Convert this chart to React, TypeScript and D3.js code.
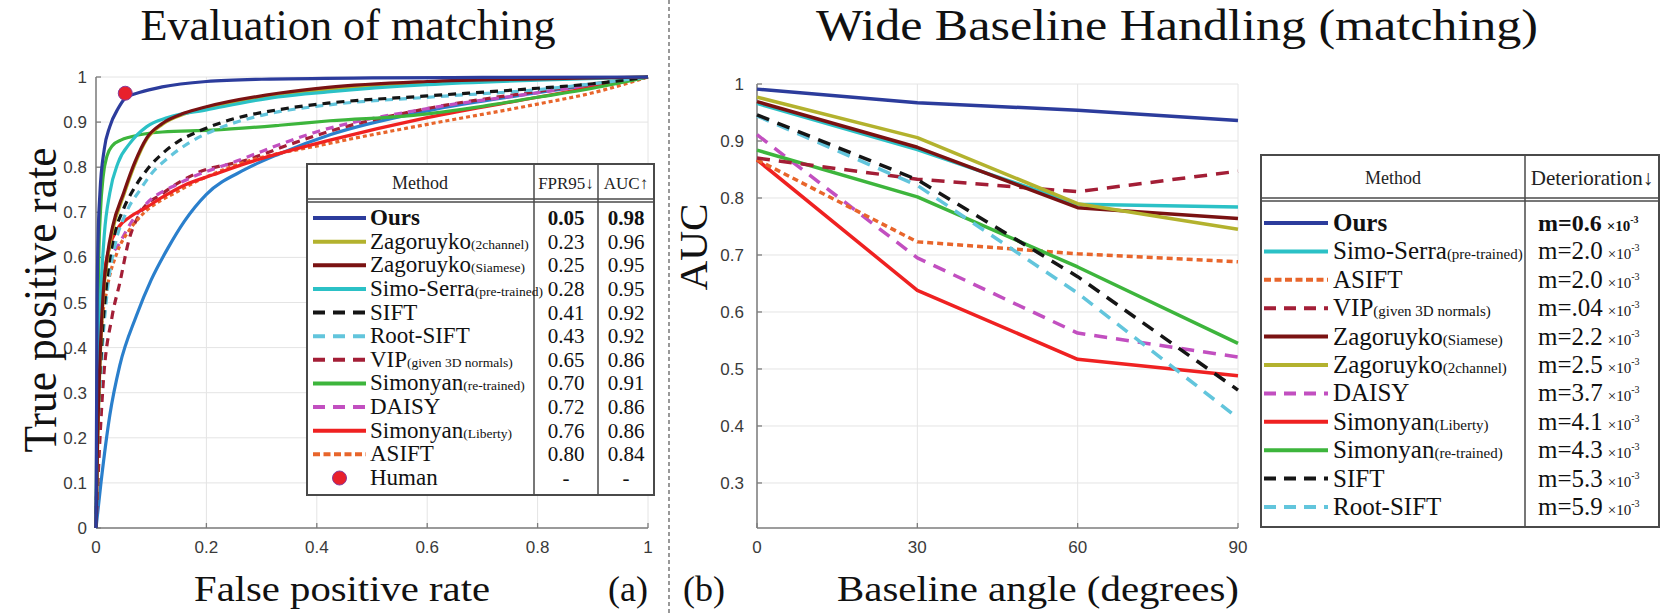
import * as d3 from 'd3'

const W = 1661
const H = 613

// (a) ROC curves, [false positive rate, true positive rate]
const rocOurs = [[0, 0], [0.002, 0.5], [0.004, 0.65], [0.007, 0.74], [0.015, 0.84], [0.025, 0.89], [0.04, 0.93], [0.053, 0.953], [0.08, 0.966], [0.12, 0.978], [0.2, 0.99], [0.3, 0.995], [0.5, 0.998], [0.7, 0.999], [1, 1]]
const rocZag2ch = [[0, 0], [0.003, 0.19], [0.008, 0.39], [0.013, 0.51], [0.02, 0.59], [0.03, 0.66], [0.05, 0.737], [0.07, 0.805], [0.092, 0.862], [0.12, 0.895], [0.16, 0.918], [0.2, 0.931], [0.33, 0.96], [0.42, 0.972], [0.6, 0.987], [0.8, 0.995], [1, 1]]
const rocZagSiam = [[0, 0], [0.003, 0.2], [0.008, 0.4], [0.013, 0.52], [0.02, 0.6], [0.03, 0.668], [0.05, 0.743], [0.07, 0.81], [0.092, 0.865], [0.12, 0.897], [0.16, 0.92], [0.2, 0.934], [0.33, 0.964], [0.42, 0.977], [0.6, 0.99], [0.8, 0.996], [1, 1]]
const rocSimoSerra = [[0, 0], [0.003, 0.3], [0.008, 0.5], [0.015, 0.65], [0.025, 0.743], [0.04, 0.81], [0.062, 0.854], [0.092, 0.89], [0.13, 0.91], [0.2, 0.927], [0.33, 0.956], [0.42, 0.967], [0.6, 0.983], [0.8, 0.993], [1, 1]]
const rocSift = [[0, 0], [0.003, 0.2], [0.01, 0.4], [0.02, 0.55], [0.031, 0.638], [0.049, 0.705], [0.07, 0.755], [0.092, 0.794], [0.121, 0.831], [0.15, 0.858], [0.183, 0.878], [0.243, 0.905], [0.333, 0.928], [0.42, 0.942], [0.6, 0.958], [0.8, 0.975], [0.9, 0.985], [1, 1]]
const rocRootSift = [[0, 0], [0.003, 0.18], [0.01, 0.37], [0.02, 0.52], [0.035, 0.63], [0.055, 0.7], [0.08, 0.75], [0.1, 0.785], [0.13, 0.82], [0.17, 0.855], [0.22, 0.885], [0.3, 0.915], [0.42, 0.938], [0.6, 0.955], [0.8, 0.972], [1, 1]]
const rocVip = [[0, 0], [0.006, 0.17], [0.013, 0.32], [0.029, 0.468], [0.043, 0.543], [0.06, 0.64], [0.08, 0.698], [0.121, 0.742], [0.183, 0.787], [0.273, 0.816], [0.35, 0.85], [0.424, 0.88], [0.6, 0.93], [0.8, 0.968], [1, 1]]
const rocSimRetrained = [[0, 0], [0.002, 0.3], [0.005, 0.6], [0.008, 0.7], [0.013, 0.78], [0.02, 0.825], [0.03, 0.848], [0.045, 0.86], [0.062, 0.867], [0.12, 0.878], [0.21, 0.882], [0.333, 0.893], [0.424, 0.903], [0.575, 0.915], [0.7, 0.935], [0.8, 0.955], [0.9, 0.975], [1, 1]]
const rocDaisy = [[0, 0], [0.004, 0.3], [0.009, 0.47], [0.02, 0.58], [0.043, 0.632], [0.065, 0.68], [0.092, 0.72], [0.152, 0.765], [0.26, 0.816], [0.393, 0.876], [0.6, 0.93], [0.8, 0.965], [1, 1]]
const rocSimLiberty = [[0, 0], [0.003, 0.25], [0.006, 0.395], [0.013, 0.543], [0.025, 0.624], [0.04, 0.665], [0.062, 0.69], [0.09, 0.71], [0.121, 0.734], [0.16, 0.76], [0.212, 0.783], [0.273, 0.809], [0.424, 0.86], [0.6, 0.91], [0.8, 0.955], [1, 1]]
const rocAsift = [[0, 0], [0.004, 0.3], [0.009, 0.43], [0.02, 0.53], [0.038, 0.61], [0.06, 0.66], [0.08, 0.69], [0.152, 0.749], [0.243, 0.8], [0.424, 0.853], [0.6, 0.895], [0.8, 0.94], [0.9, 0.965], [1, 1]]
const rocExtra = [[0, 0], [0.009, 0.1], [0.025, 0.25], [0.043, 0.36], [0.073, 0.47], [0.1, 0.55], [0.13, 0.62], [0.16, 0.68], [0.2, 0.74], [0.27, 0.795], [0.333, 0.83], [0.424, 0.872], [0.6, 0.925], [0.8, 0.965], [1, 1]]
const humanPoint = [0.053, 0.964]

const rocTicksX = [0, 0.2, 0.4, 0.6, 0.8, 1]
const rocTicksY = [0, 0.1, 0.2, 0.3, 0.4, 0.5, 0.6, 0.7, 0.8, 0.9, 1]

// (a) legend table
const rocNames = ['Ours', 'Zagoruyko', 'Zagoruyko', 'Simo-Serra', 'SIFT', 'Root-SIFT', 'VIP', 'Simonyan', 'DAISY', 'Simonyan', 'ASIFT', 'Human']
const rocSubs = ['', '(2channel)', '(Siamese)', '(pre-trained)', '', '', '(given 3D normals)', '(re-trained)', '', '(Liberty)', '', '']
const rocKeys = ['ours', 'zag2ch', 'zagSiam', 'simo', 'sift', 'rootSift', 'vip', 'simRe', 'daisy', 'simLib', 'asift', 'human']
const fpr95 = ['0.05', '0.23', '0.25', '0.28', '0.41', '0.43', '0.65', '0.70', '0.72', '0.76', '0.80', '-']
const aucVals = ['0.98', '0.96', '0.95', '0.95', '0.92', '0.92', '0.86', '0.91', '0.86', '0.86', '0.84', '-']

// (b) AUC against baseline angle
const angles = [0, 30, 60, 90]
const aucOurs = [0.991, 0.967, 0.954, 0.936]
const aucZag2ch = [0.977, 0.906, 0.79, 0.745]
const aucZagSiam = [0.969, 0.889, 0.783, 0.764]
const aucSimoSerra = [0.966, 0.885, 0.789, 0.784]
const aucSift = [0.946, 0.832, 0.662, 0.463]
const aucRootSift = [0.944, 0.822, 0.633, 0.414]
const aucVip = [0.87, 0.833, 0.811, 0.847]
const aucSimRetrained = [0.884, 0.802, 0.679, 0.545]
const aucDaisy = [0.911, 0.695, 0.563, 0.521]
const aucSimLiberty = [0.867, 0.638, 0.517, 0.488]
const aucAsift = [0.867, 0.723, 0.702, 0.688]
const aucTicksY = [0.3, 0.4, 0.5, 0.6, 0.7, 0.8, 0.9, 1]

// (b) legend table
const wideNames = ['Ours', 'Simo-Serra', 'ASIFT', 'VIP', 'Zagoruyko', 'Zagoruyko', 'DAISY', 'Simonyan', 'Simonyan', 'SIFT', 'Root-SIFT']
const wideSubs = ['', '(pre-trained)', '', '(given 3D normals)', '(Siamese)', '(2channel)', '', '(Liberty)', '(re-trained)', '', '']
const wideKeys = ['ours', 'simo', 'asift', 'vip', 'zagSiam', 'zag2ch', 'daisy', 'simLib', 'simRe', 'sift', 'rootSift']
const wideSlopes = ['0.6', '2.0', '2.0', '.04', '2.2', '2.5', '3.7', '4.1', '4.3', '5.3', '5.9']

const styles: Record<string, { color: string; dash?: string; legDash?: string }> = {
  ours: { color: '#2c3c9c' },
  zag2ch: { color: '#b3b22e' },
  zagSiam: { color: '#7a1212' },
  simo: { color: '#2bc1c6' },
  sift: { color: '#151515', dash: '8,6', legDash: '12,8' },
  rootSift: { color: '#62c5dc', dash: '8,6', legDash: '12,8' },
  vip: { color: '#a31e36', dash: '8,6', legDash: '12,8' },
  simRe: { color: '#3db53c' },
  daisy: { color: '#c24fc0', dash: '8,6', legDash: '12,8' },
  simLib: { color: '#ef2121' },
  asift: { color: '#e8652b', dash: '4,3', legDash: '7,3.5' },
  extra: { color: '#2a7fcc' },
  human: { color: '#e8202c' },
}

const rocSeries: [string, number[][]][] = [
  ['extra', rocExtra], ['vip', rocVip], ['daisy', rocDaisy], ['asift', rocAsift], ['simLib', rocSimLiberty],
  ['simRe', rocSimRetrained], ['rootSift', rocRootSift], ['sift', rocSift], ['zag2ch', rocZag2ch],
  ['simo', rocSimoSerra], ['zagSiam', rocZagSiam], ['ours', rocOurs],
]
const aucSeries: [string, number[]][] = [
  ['simLib', aucSimLiberty], ['daisy', aucDaisy], ['asift', aucAsift], ['simRe', aucSimRetrained], ['vip', aucVip],
  ['rootSift', aucRootSift], ['sift', aucSift], ['simo', aucSimoSerra], ['zagSiam', aucZagSiam], ['zag2ch', aucZag2ch],
  ['ours', aucOurs],
]

const SERIF = '"Liberation Serif", "Times New Roman", serif'
const SANS = '"Liberation Sans", Arial, sans-serif'
const AXIS = '#7d7d7d'
const GRID = '#e4e4e4'
const TICK_TXT = '#3a3a3a'

function LegendSample({ k, x1, x2, y, w }: { k: string; x1: number; x2: number; y: number; w: number }) {
  const s = styles[k]
  if (k === 'human') {
    return <circle cx={(x1 + x2) / 2} cy={y} r={7} fill={s.color} stroke="#8a3a9a" strokeWidth={1} />
  }
  return <line x1={x1} x2={x2} y1={y} y2={y} stroke={s.color} strokeWidth={w} strokeDasharray={s.legDash} />
}

export default function App() {
  // (a)
  const xA = d3.scaleLinear().domain([0, 1]).range([96, 648])
  const yA = d3.scaleLinear().domain([0, 1]).range([528, 77])
  const lineA = d3.line<number[]>().x(d => xA(d[0])).y(d => yA(d[1])).curve(d3.curveMonotoneX)
  const rowA = d3.scaleLinear().domain([0, rocNames.length - 1]).range([218, 478])

  // (b)
  const xB = d3.scaleLinear().domain([0, 90]).range([757, 1238])
  const yB = d3.scaleLinear().domain([0.221, 1]).range([528, 84])
  const lineB = d3.line<number>().x((_, i) => xB(angles[i])).y(d => yB(d))
  const rowB = d3.scaleLinear().domain([0, wideNames.length - 1]).range([223, 507])

  const fmtA = d3.format('.1f')

  return (
    <svg width={W} height={H} style={{ position: 'absolute', left: 0, top: 0, background: '#fff' }}>
      <rect width={W} height={H} fill="#fff" />

      {/* titles */}
      <text x={348} y={40} textAnchor="middle" fontFamily={SERIF} fontSize={44} fill="#111" textLength={415} lengthAdjust="spacingAndGlyphs">Evaluation of matching</text>
      <text x={1177} y={40} textAnchor="middle" fontFamily={SERIF} fontSize={44} fill="#111" textLength={722} lengthAdjust="spacingAndGlyphs">Wide Baseline Handling (matching)</text>

      {/* ---------- (a) ---------- */}
      <g>
        {rocTicksX.map(t => (
          <line key={'gx' + t} x1={xA(t)} x2={xA(t)} y1={yA(0)} y2={yA(1)} stroke={GRID} />
        ))}
        {rocTicksY.map(t => (
          <line key={'gy' + t} x1={xA(0)} x2={xA(1)} y1={yA(t)} y2={yA(t)} stroke={GRID} />
        ))}
        {rocTicksX.map(t => (
          <g key={'tx' + t}>
            <line x1={xA(t)} x2={xA(t)} y1={yA(0)} y2={yA(0) - 5} stroke={AXIS} strokeWidth={1.3} />
            <text x={xA(t)} y={553} textAnchor="middle" fontFamily={SANS} fontSize={17} fill={TICK_TXT}>{t === 0 || t === 1 ? t : fmtA(t)}</text>
          </g>
        ))}
        {rocTicksY.map(t => (
          <g key={'ty' + t}>
            <line x1={xA(0)} x2={xA(0) + 5} y1={yA(t)} y2={yA(t)} stroke={AXIS} strokeWidth={1.3} />
            <text x={87} y={yA(t) + 6} textAnchor="end" fontFamily={SANS} fontSize={17} fill={TICK_TXT}>{t === 0 || t === 1 ? t : fmtA(t)}</text>
          </g>
        ))}
        <line x1={xA(0)} x2={xA(0)} y1={yA(0)} y2={yA(1)} stroke={AXIS} strokeWidth={1.5} />
        <line x1={xA(0)} x2={xA(1)} y1={yA(0)} y2={yA(0)} stroke={AXIS} strokeWidth={1.5} />

        {rocSeries.map(([k, pts]) => (
          <path key={k} d={lineA(pts) || ''} fill="none" stroke={styles[k].color} strokeWidth={3.2}
            strokeDasharray={styles[k].dash} strokeLinejoin="round" />
        ))}
        <circle cx={xA(humanPoint[0])} cy={yA(humanPoint[1])} r={7} fill={styles.human.color} stroke="#8a3a9a" strokeWidth={1} />

        {/* legend table */}
        <rect x={307} y={164} width={347} height={331} fill="#fff" stroke="#4a4a4a" strokeWidth={2} />
        <line x1={307} x2={654} y1={199} y2={199} stroke="#4a4a4a" strokeWidth={1.5} />
        <line x1={307} x2={654} y1={202} y2={202} stroke="#4a4a4a" strokeWidth={1.5} />
        <line x1={534} x2={534} y1={164} y2={495} stroke="#4a4a4a" strokeWidth={1.5} />
        <line x1={598} x2={598} y1={164} y2={495} stroke="#4a4a4a" strokeWidth={1.5} />
        <text x={420} y={189} textAnchor="middle" fontFamily={SERIF} fontSize={18} fill="#222">Method</text>
        <text x={566} y={189} textAnchor="middle" fontFamily={SERIF} fontSize={17} fill="#222">FPR95↓</text>
        <text x={626} y={189} textAnchor="middle" fontFamily={SERIF} fontSize={17} fill="#222">AUC↑</text>
        {rocNames.map((n, i) => {
          const y = rowA(i)
          const bold = i === 0
          return (
            <g key={'ra' + i}>
              <LegendSample k={rocKeys[i]} x1={313} x2={366} y={y} w={4} />
              <text x={370} y={y + 7} fontFamily={SERIF} fontSize={23} fill="#111" fontWeight={bold ? 'bold' : 'normal'}>
                {n}<tspan fontSize={13.5}>{rocSubs[i]}</tspan>
              </text>
              <text x={566} y={y + 7} textAnchor="middle" fontFamily={SERIF} fontSize={21} fill="#111" fontWeight={bold ? 'bold' : 'normal'}>{fpr95[i]}</text>
              <text x={626} y={y + 7} textAnchor="middle" fontFamily={SERIF} fontSize={21} fill="#111" fontWeight={bold ? 'bold' : 'normal'}>{aucVals[i]}</text>
            </g>
          )
        })}

        <text transform="translate(56,300) rotate(-90)" textAnchor="middle" fontFamily={SERIF} fontSize={46} fill="#111" textLength={305} lengthAdjust="spacingAndGlyphs">True positive rate</text>
        <text x={342} y={601} textAnchor="middle" fontFamily={SERIF} fontSize={36} fill="#111" textLength={296} lengthAdjust="spacingAndGlyphs">False positive rate</text>
        <text x={628} y={601} textAnchor="middle" fontFamily={SERIF} fontSize={36} fill="#111">(a)</text>
      </g>

      {/* separator */}
      <line x1={669} x2={669} y1={0} y2={H} stroke="#555" strokeWidth={1.2} strokeDasharray="4,3" />

      {/* ---------- (b) ---------- */}
      <g>
        {angles.map(t => (
          <line key={'bgx' + t} x1={xB(t)} x2={xB(t)} y1={yB(0.221)} y2={yB(1)} stroke={GRID} />
        ))}
        {aucTicksY.map(t => (
          <line key={'bgy' + t} x1={xB(0)} x2={xB(90)} y1={yB(t)} y2={yB(t)} stroke={GRID} />
        ))}
        {angles.map(t => (
          <g key={'btx' + t}>
            <line x1={xB(t)} x2={xB(t)} y1={yB(0.221)} y2={yB(0.221) - 5} stroke={AXIS} strokeWidth={1.3} />
            <text x={xB(t)} y={553} textAnchor="middle" fontFamily={SANS} fontSize={17} fill={TICK_TXT}>{t}</text>
          </g>
        ))}
        {aucTicksY.map(t => (
          <g key={'bty' + t}>
            <line x1={xB(0)} x2={xB(0) + 5} y1={yB(t)} y2={yB(t)} stroke={AXIS} strokeWidth={1.3} />
            <text x={744} y={yB(t) + 6} textAnchor="end" fontFamily={SANS} fontSize={17} fill={TICK_TXT}>{t === 1 ? t : fmtA(t)}</text>
          </g>
        ))}
        <line x1={xB(0)} x2={xB(0)} y1={yB(0.221)} y2={yB(1)} stroke={AXIS} strokeWidth={1.5} />
        <line x1={xB(0)} x2={xB(90)} y1={yB(0.221)} y2={yB(0.221)} stroke={AXIS} strokeWidth={1.5} />

        {aucSeries.map(([k, vals]) => (
          <path key={'b' + k} d={lineB(vals) || ''} fill="none" stroke={styles[k].color} strokeWidth={3.5}
            strokeDasharray={styles[k].dash ? (k === 'asift' ? '6,4' : '13,9') : undefined} strokeLinejoin="round" />
        ))}

        <text transform="translate(707,247) rotate(-90)" textAnchor="middle" fontFamily={SERIF} fontSize={40} fill="#111" textLength={87} lengthAdjust="spacingAndGlyphs">AUC</text>
        <text x={704} y={601} textAnchor="middle" fontFamily={SERIF} fontSize={36} fill="#111">(b)</text>
        <text x={1038} y={601} textAnchor="middle" fontFamily={SERIF} fontSize={36} fill="#111" textLength={402} lengthAdjust="spacingAndGlyphs">Baseline angle (degrees)</text>

        {/* legend table */}
        <rect x={1261} y={155} width={398} height={372} fill="#fff" stroke="#4a4a4a" strokeWidth={2} />
        <line x1={1261} x2={1659} y1={198} y2={198} stroke="#4a4a4a" strokeWidth={1.5} />
        <line x1={1261} x2={1659} y1={201} y2={201} stroke="#4a4a4a" strokeWidth={1.5} />
        <line x1={1525} x2={1525} y1={155} y2={527} stroke="#4a4a4a" strokeWidth={1.5} />
        <text x={1393} y={184} textAnchor="middle" fontFamily={SERIF} fontSize={18} fill="#222">Method</text>
        <text x={1592} y={185} textAnchor="middle" fontFamily={SERIF} fontSize={21} fill="#222">Deterioration↓</text>
        {wideNames.map((n, i) => {
          const y = rowB(i)
          const bold = i === 0
          return (
            <g key={'rb' + i}>
              <LegendSample k={wideKeys[i]} x1={1264} x2={1328} y={y} w={4} />
              <text x={1333} y={y + 8} fontFamily={SERIF} fontSize={25} fill="#111" fontWeight={bold ? 'bold' : 'normal'}>
                {n}<tspan fontSize={15}>{wideSubs[i]}</tspan>
              </text>
              <text x={1538} y={y + 8} fontFamily={SERIF} fontSize={bold ? 24 : 25} fill="#111" fontWeight={bold ? 'bold' : 'normal'}>
                {'m=' + wideSlopes[i]}
                <tspan fontSize={15} dx={5}>×10</tspan>
                <tspan fontSize={10} dy={-8}>-3</tspan>
              </text>
            </g>
          )
        })}
      </g>
    </svg>
  )
}
